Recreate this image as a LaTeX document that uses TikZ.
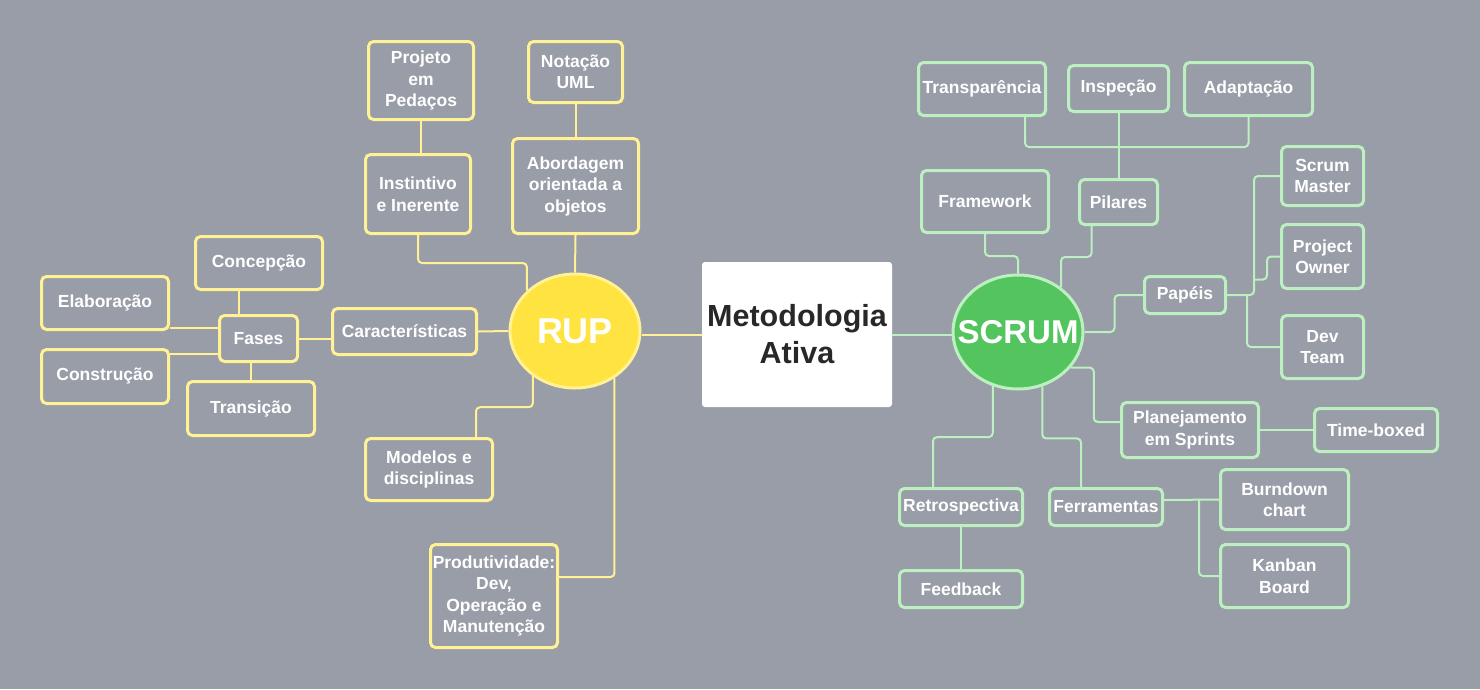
\documentclass[tikz,border=0pt]{standalone}
\usepackage{fontspec}
\setmainfont{Liberation Sans}
\usetikzlibrary{shapes.geometric}
\definecolor{fundo}{RGB}{152,157,167}
\definecolor{amarelo}{RGB}{255,241,148}
\definecolor{ouro}{RGB}{255,227,64}
\definecolor{verdeclaro}{RGB}{188,240,192}
\definecolor{verde}{RGB}{84,196,94}
\definecolor{tinta}{RGB}{40,40,40}
\begin{document}
\begin{tikzpicture}[x=1pt,y=-1pt,
    caixa/.style={draw,rounded corners=5pt,line width=3pt,inner sep=0pt,align=center,text=white,
        font=\fontsize{17.5}{21.5}\selectfont\bfseries},
    rcaixa/.style={caixa,draw=amarelo},
    scaixa/.style={caixa,draw=verdeclaro},
    tam/.style 2 args={minimum width=#1,minimum height=#2},
    bola/.style={ellipse,line width=3pt,inner xsep=-20pt,inner ysep=0pt,minimum width=130,minimum height=114,text=white},
    rlink/.style={draw=amarelo,line width=2pt,rounded corners=4pt},
    slink/.style={draw=verdeclaro,line width=2pt,rounded corners=4pt}]
			\fill[fundo] (0,0) rectangle (1480,689);

			% centro
			\node[fill=white,rounded corners=3pt,minimum width=190,minimum height=145,align=center,text=tinta,
			      font=\fontsize{30.5}{37}\selectfont\bfseries] (meto) at (797,334.5) {Metodologia\\Ativa};

			% RUP
			\node[bola,draw=amarelo,fill=ouro,font=\fontsize{36}{40}\selectfont\bfseries] (rup) at (575,331) {RUP};
			\node[rcaixa,tam={105}{78}] (proj) at (421,80.5) {Projeto\\em\\Pedaços};
			\node[rcaixa,tam={94}{61}] (nota) at (575.5,72) {Notação\\UML};
			\node[rcaixa,tam={105}{79}] (inst) at (418,194) {Instintivo\\e Inerente};
			\node[rcaixa,tam={126}{95}] (abor) at (575.5,186) {Abordagem\\orientada a\\objetos};
			\node[rcaixa,tam={127}{53}] (concep) at (259,263) {Concepção};
			\node[rcaixa,tam={127}{53}] (elab) at (105,303) {Elaboração};
			\node[rcaixa,tam={78}{46}] (fases) at (258.5,338.5) {Fases};
			\node[rcaixa,tam={144}{46}] (carac) at (404.5,331.5) {Características};
			\node[rcaixa,tam={127}{54}] (cons) at (105,376.5) {Construção};
			\node[rcaixa,tam={127}{54}] (trans) at (251,408.5) {Transição};
			\node[rcaixa,tam={127}{62}] (model) at (429,469.5) {Modelos e\\disciplinas};
			\node[rcaixa,tam={127}{103}] (prod) at (494,596) {Produtividade:\\Dev,\\Operação e\\Manutenção};

			\draw[rlink] (meto.west) -- (meto.west -| rup.east);
			\draw[rlink] (proj.south) -- (proj.south |- inst.north);
			\draw[rlink] (nota.south) -- (abor.north);
			\draw[rlink] (abor.south) -- (rup.north);
			\draw[rlink] (inst.south) -- ++(0,28) -| (rup.140);
			\draw[rlink] (carac.east) -- (rup.west);
			\draw[rlink] (fases.east) -- (fases.east -| carac.west);
			\draw[rlink] ([xshift=-20pt]fases.north) -- ([xshift=-20pt]fases.north |- concep.south);
			\draw[rlink] ([yshift=3pt]elab.south east) -- ([yshift=3pt]elab.south east -| fases.west);
			\draw[rlink] ([yshift=-6pt]cons.north east) -- ([yshift=-6pt]cons.north east -| fases.west);
			\draw[rlink] (trans.north) -- (trans.north |- fases.south);
			\draw[rlink] (rup.227) -- ++(0,31) -| ([xshift=-18pt]model.north east);
			\draw[rlink] (rup.310) |- ([yshift=19pt]prod.east);

			% SCRUM
			\node[bola,draw=verdeclaro,fill=verde,font=\fontsize{33}{38}\selectfont\bfseries] (scrum) at (1018,332) {SCRUM};
			\node[scaixa,tam={127}{53}] (transp) at (982,89) {Transparência};
			\node[scaixa,tam={100}{46}] (insp) at (1118.5,88.5) {Inspeção};
			\node[scaixa,tam={128}{53}] (adapt) at (1248.5,89) {Adaptação};
			\node[scaixa,tam={127}{62}] (frame) at (985,201.5) {Framework};
			\node[scaixa,tam={78}{45}] (pil) at (1118.5,202) {Pilares};
			\node[scaixa,tam={82}{59}] (sm) at (1322.5,176) {Scrum\\Master};
			\node[scaixa,tam={82}{64}] (po) at (1322.5,256.5) {Project\\Owner};
			\node[scaixa,tam={81}{37}] (pap) at (1185,295) {Papéis};
			\node[scaixa,tam={82}{63}] (dt) at (1322.5,347) {Dev\\Team};
			\node[scaixa,tam={137}{55}] (plan) at (1190,430) {Planejamento\\em Sprints};
			\node[scaixa,tam={123}{43}] (timeb) at (1376,430) {Time-boxed};
			\node[scaixa,tam={128}{60}] (burn) at (1284.5,499.5) {Burndown\\chart};
			\node[scaixa,tam={123}{37}] (retro) at (961,507) {Retrospectiva};
			\node[scaixa,tam={113}{37}] (ferr) at (1106,507) {Ferramentas};
			\node[scaixa,tam={128}{63}] (kanb) at (1284.5,576) {Kanban\\Board};
			\node[scaixa,tam={123}{37}] (feed) at (961,589) {Feedback};

			\draw[slink] (meto.east) -- (meto.east -| scrum.west);
			\draw[slink] ([xshift=43pt]transp.south) -- ++(0,30) -| (adapt.south);
			\draw[slink] (insp.south) -- (insp.south |- pil.north);
			\draw[slink] (frame.south) -- ++(0,22) -| (scrum.north);
			\draw[slink] ([xshift=-27pt]pil.south) -- ++(0,31) -| (scrum.46);
			\draw[slink] (scrum.east) -- ++(30,0) |- (pap.west);
			\draw[slink] (pap.east) -- ++(27,0) |- (sm.west);
			\draw[slink] (po.west) -- ++(-13,0) |- ++(-13,23);
			\draw[slink] ([xshift=20pt]pap.east) |- (dt.west);
			\draw[slink] (scrum.326) -- ++(23,0) |- ([yshift=8pt]plan.west);
			\draw[slink] (plan.east) -- (timeb.west);
			\draw[slink] (scrum.245) -- ++(0,51) -| ([xshift=-28pt]retro.north);
			\draw[slink] (scrum.294) -- ++(0,52) -| ([xshift=-25pt]ferr.north);
			\draw[slink] (retro.south) -- (feed.north);
			\draw[slink] ([yshift=7pt]ferr.east) -- (burn.west);
			\draw[slink] ([xshift=35pt,yshift=7pt]ferr.east) |- (kanb.west);
\end{tikzpicture}
\end{document}
